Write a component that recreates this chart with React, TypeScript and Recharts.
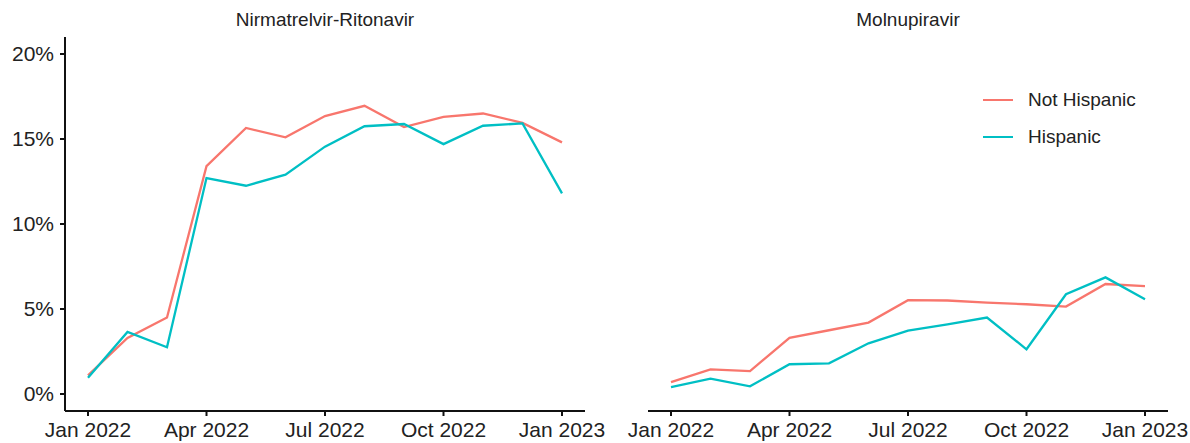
import { LineChart, Line, XAxis, YAxis } from "recharts";

const months = [
  "Jan 2022", "Feb 2022", "Mar 2022", "Apr 2022", "May 2022", "Jun 2022", "Jul 2022",
  "Aug 2022", "Sep 2022", "Oct 2022", "Nov 2022", "Dec 2022", "Jan 2023",
];
const tickIdx = [0, 3, 6, 9, 12];
const yTicks = [0, 5, 10, 15, 20];

// percent of patients
const nirmNotHisp = [1.1, 3.3, 4.5, 13.4, 15.65, 15.1, 16.35, 16.95, 15.7, 16.3, 16.5, 15.95, 14.8];
const nirmHisp = [0.95, 3.65, 2.75, 12.7, 12.25, 12.9, 14.55, 15.75, 15.88, 14.7, 15.78, 15.92, 11.8];
const molNotHisp = [0.7, 1.45, 1.35, 3.3, 3.75, 4.2, 5.52, 5.5, 5.37, 5.28, 5.14, 6.47, 6.35];
const molHisp = [0.4, 0.9, 0.45, 1.75, 1.8, 2.98, 3.73, 4.1, 4.5, 2.63, 5.87, 6.86, 5.58];

const RED = "#F8766D";
const CYAN = "#00BFC4";
const FONT = "'Liberation Sans', Arial, sans-serif";

const build = (a: number[], b: number[]) =>
  months.map((m, i) => ({ idx: i, month: m, notHisp: a[i], hisp: b[i] }));

const nirmData = build(nirmNotHisp, nirmHisp);
const molData = build(molNotHisp, molHisp);

const tickStyle = { fontSize: 21, fill: "#222", fontFamily: FONT };

function LegendBox() {
  const items = [
    { label: "Not Hispanic", color: RED },
    { label: "Hispanic", color: CYAN },
  ];
  return (
    <div style={{ position: "absolute", left: 983, top: 81, fontFamily: FONT, fontSize: 19, color: "#222" }}>
      {items.map((it) => (
        <div key={it.label} style={{ display: "flex", alignItems: "center", height: 37 }}>
          <div style={{ width: 30, height: 2, background: it.color, marginRight: 15 }} />
          <span>{it.label}</span>
        </div>
      ))}
    </div>
  );
}

function Panel({ data, showY, width, left, title }: any) {
  const marginLeft = showY ? 5 : 48;
  const plotW = 520;
  const yW = showY ? 60 : 0;
  return (
    <div style={{ position: "absolute", left, top: 0, width, height: 443 }}>
      <div
        style={{
          position: "absolute",
          top: 9,
          left: marginLeft + yW,
          width: plotW,
          textAlign: "center",
          fontFamily: FONT,
          fontSize: 19,
          color: "#222",
        }}
      >
        {title}
      </div>
      <LineChart
        width={width}
        height={443}
        data={data}
        margin={{ top: 37, right: width - marginLeft - yW - plotW, bottom: 0, left: marginLeft }}
      >
        <XAxis
          dataKey="idx"
          type="number"
          domain={[0, 12]}
          ticks={tickIdx}
          tickFormatter={(v: number) => months[v]}
          padding={{ left: 23, right: 23 }}
          height={32}
          tickSize={5}
          tickMargin={6}
          interval={0}
          axisLine={{ stroke: "#111", strokeWidth: 2 }}
          tickLine={{ stroke: "#111", strokeWidth: 2 }}
          tick={tickStyle}
        />
        <YAxis
          hide={!showY}
          width={showY ? yW : 1}
          domain={[-1, 21]}
          ticks={yTicks}
          allowDataOverflow
          tickFormatter={(v: number) => `${v}%`}
          tickSize={5}
          tickMargin={6}
          axisLine={{ stroke: "#111", strokeWidth: 2 }}
          tickLine={{ stroke: "#111", strokeWidth: 2 }}
          tick={tickStyle}
        />
        <Line
          type="linear"
          dataKey="notHisp"
          name="Not Hispanic"
          stroke={RED}
          strokeWidth={2.3}
          dot={false}
          isAnimationActive={false}
        />
        <Line
          type="linear"
          dataKey="hisp"
          name="Hispanic"
          stroke={CYAN}
          strokeWidth={2.3}
          dot={false}
          isAnimationActive={false}
        />
      </LineChart>
    </div>
  );
}

export default function App() {
  return (
    <div style={{ position: "absolute", left: 0, top: 0, width: 1190, height: 443, background: "#fff" }}>
      <Panel data={nirmData} showY width={625} left={0} title="Nirmatrelvir-Ritonavir" />
      <Panel data={molData} showY={false} width={590} left={600} title="Molnupiravir" />
      <LegendBox />
    </div>
  );
}
